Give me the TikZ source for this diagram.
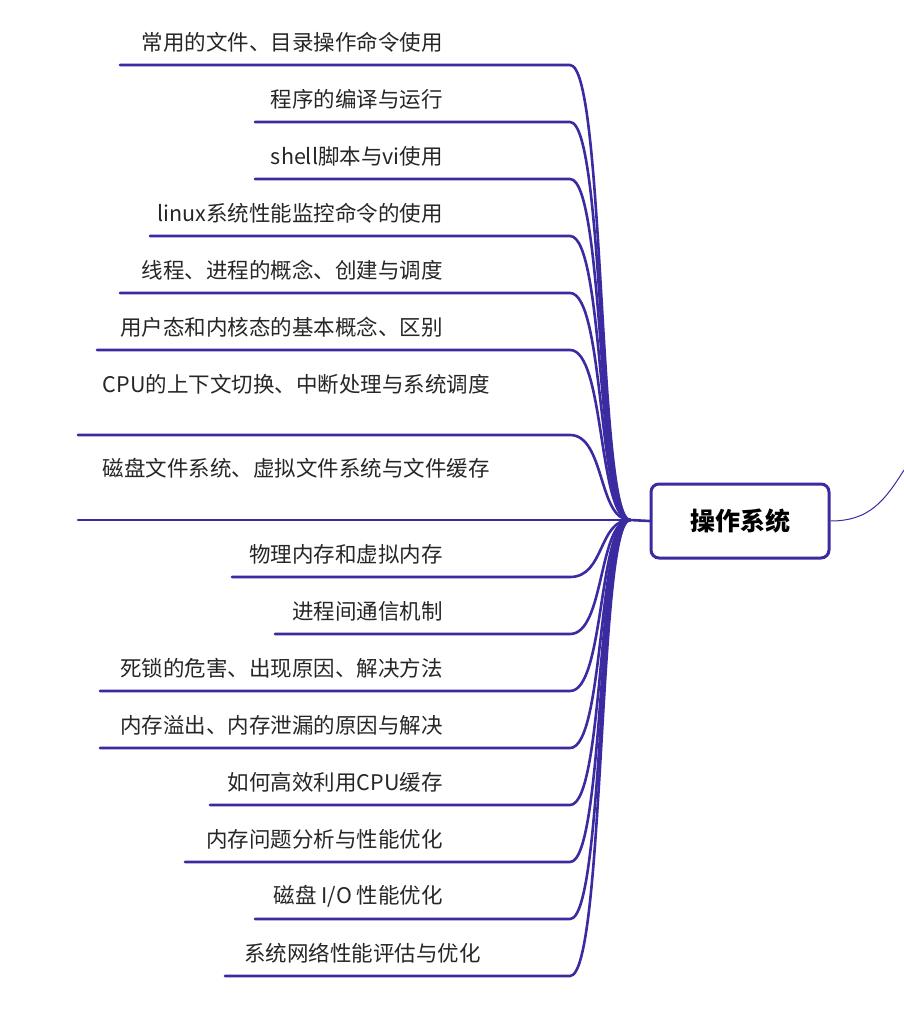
\documentclass[tikz,border=0pt]{standalone}
\usepackage{fontspec}
\newfontfamily\cjk{Noto Sans CJK SC}
\definecolor{branch}{HTML}{3A2BA0}
\tikzset{
  leaf/.style={anchor=east, inner sep=0pt, font=\cjk\fontsize{21.5}{22}\selectfont, text=black!85},
  twig/.style={draw=branch, line width=2.6pt, line cap=round},
  root/.style={draw=branch, line width=3pt, rounded corners=8pt, minimum width=178pt,
    minimum height=74pt, font=\cjk\bfseries\fontsize{25}{25}\selectfont}
}
\begin{document}
\begin{tikzpicture}[x=1pt, y=-1pt]
   \useasboundingbox (0,0) rectangle (904,1022);
   % hub and root
   \coordinate (hub) at (630,520);
   \node[root] (os) at (740,521) {操作系统};
   \coordinate (edge) at (904,470);
   \draw[branch, line width=1pt] (os.east) .. controls (870,521) and (885,500) .. (edge);
   % branches: line y / left x / label right x / label y / text
   \foreach \y/\l/\r/\t/\txt [count=\i] in {
      65/120/443/42/{常用的文件、目录操作命令使用},
      122/255/443/99/{程序的编译与运行},
      179/255/443/156/{shell脚本与vi使用},
      236/150/443/213/{linux系统性能监控命令的使用},
      293/120/443/270/{线程、进程的概念、创建与调度},
      350/97/443/327/{用户态和内核态的基本概念、区别},
      435/78/490/384/{CPU的上下文切换、中断处理与系统调度},
      520/78/490/468/{磁盘文件系统、虚拟文件系统与文件缓存},
      577/232/443/554/{物理内存和虚拟内存},
      634/275/443/611/{进程间通信机制},
      691/100/443/668/{死锁的危害、出现原因、解决方法},
      748/100/443/725/{内存溢出、内存泄漏的原因与解决},
      805/210/443/782/{如何高效利用CPU缓存},
      862/185/443/839/{内存问题分析与性能优化},
      919/255/443/896/{磁盘 I/O 性能优化},
      976/225/481/953/{系统网络性能评估与优化}} {
      \node[leaf] (t\i) at (\r,\t) {\txt};
      \coordinate (s\i) at (\l,\y);
      \draw[twig] (s\i) -- (570,\y) .. controls (605,\y) and (598,520) .. (hub);
   }
   \draw[twig] (hub) -- (os.west);
\end{tikzpicture}
\end{document}
